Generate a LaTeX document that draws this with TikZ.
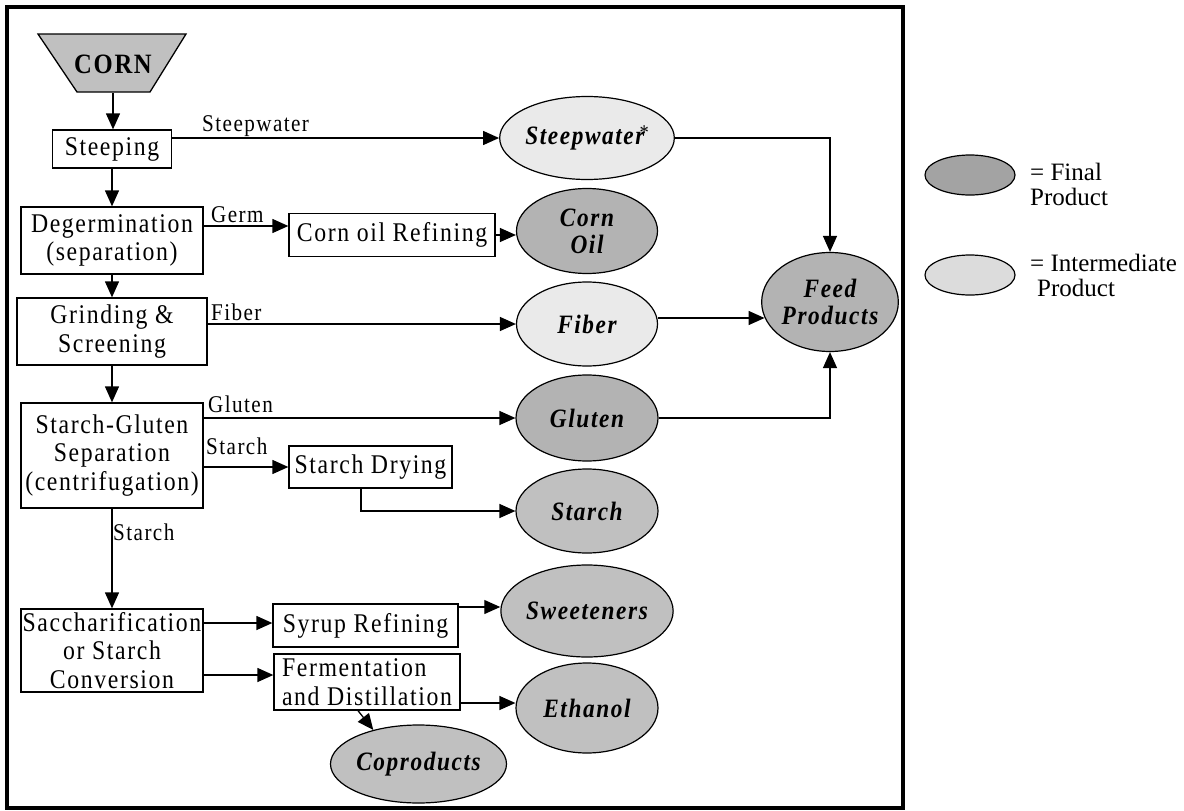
\documentclass[tikz,border=0pt]{standalone}
\usepackage{fontspec}
\setmainfont{Liberation Serif}[FakeStretch=0.88, LetterSpace=6]
\newfontfamily\legfont{Liberation Serif}
\usetikzlibrary{shapes.geometric,arrows.meta}
\definecolor{finA}{HTML}{B3B3B3}
\definecolor{finB}{HTML}{C0C0C0}
\definecolor{midC}{HTML}{EAEAEA}
\definecolor{legfin}{HTML}{A3A3A3}
\definecolor{legmid}{HTML}{DCDCDC}
\begin{document}
\begin{tikzpicture}[x=1pt,y=-1pt,
  proc/.style={draw, line width=1.3pt, fill=white, inner sep=0pt, align=center, font=\fontsize{27}{28.5}\selectfont},
  prod/.style={draw, ellipse, line width=1.2pt, inner sep=0pt, align=center, font=\fontsize{26.5}{27}\selectfont\bfseries\itshape},
  finalA/.style={prod, fill=finA},
  finalB/.style={prod, fill=finB},
  inter/.style={prod, fill=midC},
  lbl/.style={font=\fontsize{24}{24}\selectfont, inner sep=0pt, anchor=base west},
  legtxt/.style={font=\legfont\fontsize{25}{25}\selectfont, align=left, anchor=west, inner sep=0pt},
  arr/.style={line width=1.3pt, -{Triangle[length=16pt,width=14pt]}},
]
\useasboundingbox (0,0) rectangle (1184,811);
\draw[line width=3.5pt] (7,7) rectangle (903,808);

% CORN hopper
\filldraw[fill=finB, line width=1.3pt] (38,34) -- (186,34) -- (150,92) -- (77,92) -- cycle;
\node[minimum width=148, minimum height=58, inner sep=0pt, font=\fontsize{28}{28}\selectfont\bfseries] (corn) at (113,64) {CORN};

% process boxes
\node[proc, minimum width=119, minimum height=38] (steep) at (112,149) {Steeping};
\node[proc, minimum width=182, minimum height=67] (deger) at (112,240.5) {Degermination\\(separation)};
\node[proc, minimum width=190, minimum height=67] (grind) at (112,331.5) {Grinding \&\\Screening};
\node[proc, minimum width=182, minimum height=105] (sgsep) at (112,455.5) {Starch-Gluten\\Separation\\(centrifugation)};
\node[proc, minimum width=182, minimum height=83] (sacch) at (112,650.5) {Saccharification\\or Starch\\Conversion};
\node[proc, minimum width=206, minimum height=43] (oilref) at (392,235) {Corn oil Refining};
\node[proc, minimum width=163, minimum height=42] (sdry) at (370.5,467) {Starch Drying};
\node[proc, minimum width=185, minimum height=43] (syrup) at (365.5,625.5) {Syrup Refining};
\node[proc, minimum width=186, minimum height=56, align=left] (ferm) at (367,682) {Fermentation\\and Distillation};

% products
\node[inter, minimum width=141, minimum height=83] (swater) at (587,138) {Steepwater\kern-5pt\raisebox{5pt}{\fontsize{21}{21}\selectfont\mdseries\upshape *}};
\node[finalA, minimum width=141, minimum height=85] (cornoil) at (587,231) {Corn\\Oil};
\node[inter, minimum width=141, minimum height=84] (fiber) at (587,324) {Fiber};
\node[finalA, minimum width=142, minimum height=86] (gluten) at (587,418) {Gluten};
\node[finalB, minimum width=142, minimum height=84] (starch) at (587,511) {Starch};
\node[finalB, minimum width=142, minimum height=92] (sweet) at (587,611) {Sweeteners};
\node[finalB, minimum width=142, minimum height=90] (ethanol) at (587,708) {Ethanol};
\node[finalB, minimum width=149, minimum height=78] (copro) at (418.5,764) {Coproducts};
\node[finalA, minimum width=132, minimum height=99] (feed) at (830,302) {Feed\\Products};

% connectors
\draw[arr] (corn.south) -- (corn.south |- steep.north);
\draw[arr] (steep.east |- swater.west) -- (swater.west);
\node[lbl] (lsteep) at (202,131) {Steepwater};
\draw[arr] (swater.east) -| (feed.north);
\draw[arr] (steep.south) -- (steep.south |- deger.north);
\draw[arr] (deger.east |- 0,226) -- (oilref.west |- 0,226);
\node[lbl] (lgerm) at (211,222) {Germ};
\draw[arr] (oilref.east) -- (oilref.east -| cornoil.west);
\draw[arr] (deger.south) -- (deger.south |- grind.north);
\draw[arr] (grind.east |- fiber.west) -- (fiber.west);
\node[lbl] (lfiber) at (211,320) {Fiber};
\draw[arr] ([yshift=6pt]fiber.east) -- ([shift={(3.5pt,-16pt)}]feed.west);
\draw[arr] (grind.south) -- (grind.south |- sgsep.north);
\draw[arr] (sgsep.east |- gluten.west) -- (gluten.west);
\node[lbl] (lgluten) at (208,412) {Gluten};
\draw[arr] (gluten.east) -| (feed.south);
\draw[arr] (sgsep.east |- sdry.west) -- (sdry.west);
\node[lbl] (lstarch1) at (206,454) {Starch};
\draw[arr] ([xshift=-9.5pt]sdry.south) |- (starch.west);
\draw[arr] (sgsep.south) -- (sgsep.south |- sacch.north);
\node[lbl] (lstarch2) at (113,540) {Starch};
\draw[arr] (sacch.east |- 0,623) -- (syrup.west |- 0,623);
\draw[arr] (sacch.east |- 0,675) -- (ferm.west |- 0,675);
\draw[arr] (syrup.east |- 0,607) -- (sweet.west |- 0,607);
\draw[arr] (ferm.east |- 0,703) -- (ethanol.west |- 0,703);
\draw[arr] ([xshift=-9pt]ferm.south) -- (copro.143);

% legend
\node[prod, fill=legfin, minimum width=90, minimum height=40] (lfin) at (970,175) {};
\node[prod, fill=legmid, minimum width=90, minimum height=40] (lmid) at (970,275) {};
\node[legtxt] (tfin) at (1030,184) {= Final\\Product};
\node[legtxt] (tmid) at (1030,275) {= Intermediate\\\hspace*{7pt}Product};
\end{tikzpicture}
\end{document}
